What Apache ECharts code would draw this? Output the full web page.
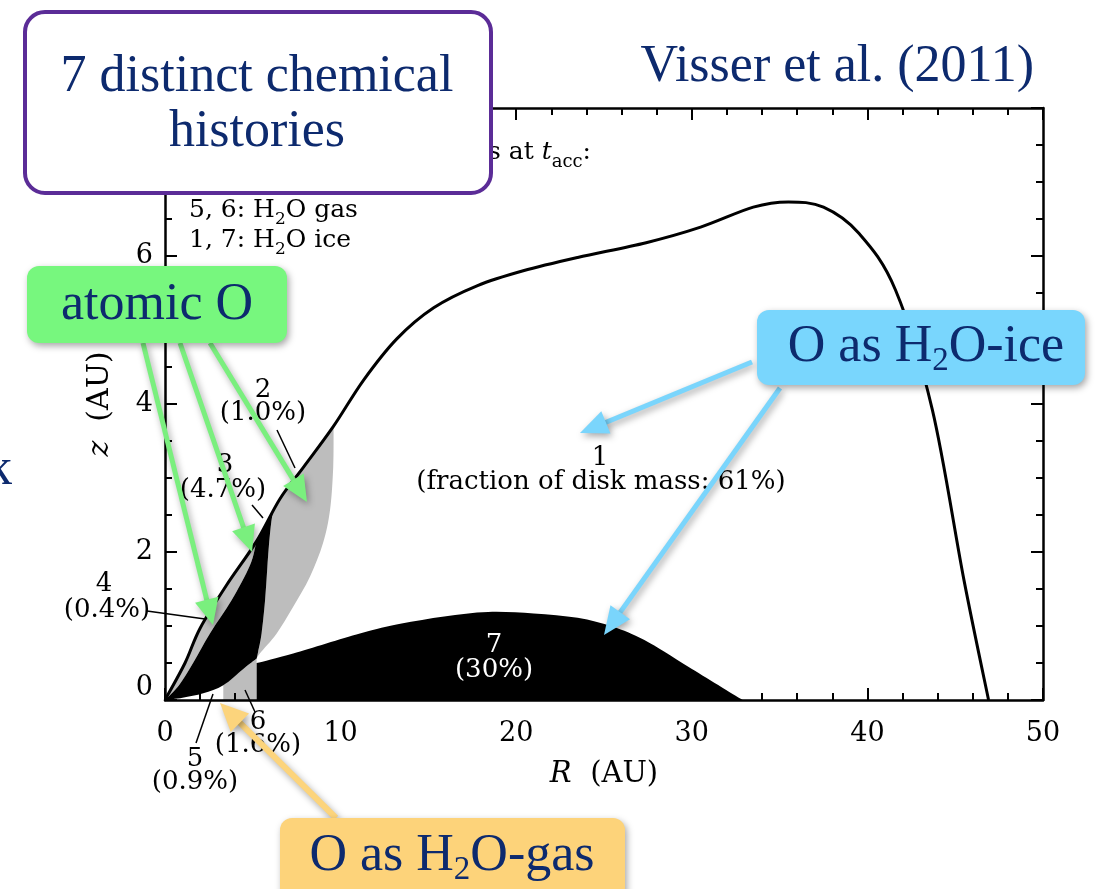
<!DOCTYPE html>
<html>
<head>
<meta charset="utf-8">
<script src="https://cdn.jsdelivr.net/npm/echarts@6/dist/echarts.min.js"></script>
<style>
html,body{margin:0;padding:0;background:#fff;}
#c{width:1096px;height:889px;}
</style>
</head>
<body>
<div id="c"></div>
<script>
// ---------------- data (R in AU, z in AU) ----------------
const xTickValues = [0, 10, 20, 30, 40, 50];
const xTickLabels = ['0', '10', '20', '30', '40', '50'];
const yTickValues = [0, 2, 4, 6, 8];
const yTickLabels = ['0', '2', '4', '6', '8'];

// outer disk surface (black line)
const outerCurve = [[0,0],[1.14,0.5],[2.0,0.97],[3.5,1.55],[5.2,2.14],[6.55,2.72],[7.9,3.15],[9.6,3.7],[11.3,4.32],[13.2,4.88],[15.3,5.3],[17.8,5.6],[20.4,5.8],[23.5,5.98],[27.4,6.18],[30.5,6.39],[33.5,6.66],[35.5,6.73],[37.5,6.66],[39.5,6.31],[41.6,5.54],[43.7,3.92],[45.5,1.62],[46.9,0]];
// boundary between region 4 (grey) and region 3 (black)
const boundary34 = [[0,0],[0.8,0.2],[1.6,0.5],[2.56,0.9],[3.8,1.35],[4.84,1.82],[5.2,2.14]];
// lower boundary of region 3 (above regions 5 and 6)
const lowerCurve = [[0,0],[1.0,0.03],[2.18,0.09],[3.32,0.2],[4.46,0.42],[5.22,0.56]];
// right edge of region 3 (from apex down)
const edge3Right = [[6.55,2.72],[6.17,2.55],[5.98,2.25],[5.83,1.8],[5.7,1.35],[5.5,0.9],[5.3,0.65],[5.22,0.56]];
// right edge of region 2 (from surface down)
const edge2Right = [[9.6,3.7],[9.58,3.15],[9.4,2.57],[9.0,2.12],[8.26,1.67],[7.3,1.26],[6.36,0.9],[5.4,0.63],[5.22,0.56]];
// top of region 7
const top7 = [[5.22,0.5],[7.3,0.63],[11.1,0.9],[13.4,1.03],[15.9,1.13],[18.4,1.19],[21,1.17],[23.5,1.11],[25.5,0.99],[27.3,0.81],[29.8,0.45],[32.9,0]];
// radial extent of region 6 (grey) and region 7 (black) at the midplane
const region6Edges = [3.32, 5.22];
const region7Edges = [5.22, 32.9];

// region labels
const regionNames = ['1','2','3','4','5','6','7'];
const regionFractions = ['(fraction of disk mass: 61%)','(1.0%)','(4.7%)','(0.4%)','(0.9%)','(1.6%)','(30%)'];

// ---------------- helpers ----------------
const NAVY = '#0d2a6e';
const GREY = '#bdbdbd';
const PLOT_FONT = '"DejaVu Serif", serif';
const SLIDE_FONT = '"Liberation Serif", serif';

function piecePath(pts, smooth) {
  let d = '';
  for (let i = 0; i < pts.length - 1; i++) {
    const p1 = pts[i], p2 = pts[i + 1];
    if (!smooth) { d += ' L' + p2[0] + ' ' + p2[1]; continue; }
    const p0 = pts[i - 1] || p1, p3 = pts[i + 2] || p2;
    const c1 = [p1[0] + (p2[0] - p0[0]) / 6, p1[1] + (p2[1] - p0[1]) / 6];
    const c2 = [p2[0] - (p3[0] - p1[0]) / 6, p2[1] - (p3[1] - p1[1]) / 6];
    d += ' C' + c1[0] + ' ' + c1[1] + ' ' + c2[0] + ' ' + c2[1] + ' ' + p2[0] + ' ' + p2[1];
  }
  return d;
}
function buildPath(pieces, close) {
  let d = '';
  let last = null;
  pieces.forEach((pc, k) => {
    const first = pc.pts[0];
    if (k === 0) d += 'M' + first[0] + ' ' + first[1];
    else if (!last || Math.abs(last[0] - first[0]) > 0.01 || Math.abs(last[1] - first[1]) > 0.01) d += ' L' + first[0] + ' ' + first[1];
    d += piecePath(pc.pts, pc.smooth);
    last = pc.pts[pc.pts.length - 1];
  });
  if (close) d += ' Z';
  return d;
}
const rev = a => a.slice().reverse();

const regions = [
  { name: 'region 2', fill: GREY, z: 2, pieces: [
    { pts: rev(edge3Right), smooth: true },
    { pts: outerCurve.slice(5, 8), smooth: true },
    { pts: edge2Right, smooth: true } ] },
  { name: 'region 4', fill: GREY, z: 2, pieces: [
    { pts: outerCurve.slice(0, 5), smooth: true },
    { pts: rev(boundary34), smooth: true } ] },
  { name: 'region 6', fill: GREY, z: 2, pieces: [
    { pts: [[region6Edges[0], 0], lowerCurve[3]], smooth: false },
    { pts: lowerCurve.slice(3), smooth: true },
    { pts: [lowerCurve[5], [region6Edges[1], 0]], smooth: false } ] },
  { name: 'region 3', fill: '#000', z: 3, pieces: [
    { pts: boundary34, smooth: true },
    { pts: outerCurve.slice(4, 6), smooth: true },
    { pts: edge3Right, smooth: true },
    { pts: rev(lowerCurve), smooth: true } ] },
  { name: 'region 7', fill: '#000', z: 3, pieces: [
    { pts: [[region7Edges[0], 0], top7[0]], smooth: false },
    { pts: top7, smooth: true } ] }
];

function regionSeries(rg) {
  return {
    type: 'custom', name: rg.name, coordinateSystem: 'cartesian2d',
    xAxisIndex: 0, yAxisIndex: 0, silent: true, animation: false, clip: false, z: rg.z,
    data: [[0, 0]],
    renderItem: (params, api) => ({
      type: 'path',
      shape: { pathData: buildPath(rg.pieces.map(pc => ({ pts: pc.pts.map(p => api.coord(p)), smooth: pc.smooth })), true) },
      style: { fill: rg.fill, stroke: 'none' }
    })
  };
}
const outerSeries = {
  type: 'custom', name: 'disk surface', coordinateSystem: 'cartesian2d',
  xAxisIndex: 0, yAxisIndex: 0, silent: true, animation: false, clip: false, z: 4,
  data: [[0, 0]],
  renderItem: (params, api) => ({
    type: 'path',
    shape: { pathData: buildPath([{ pts: outerCurve.map(p => api.coord(p)), smooth: true }], false) },
    style: { fill: 'none', stroke: '#000', lineWidth: 3, lineJoin: 'round' }
  })
};

const tickStyle = { color: '#000', width: 2 };
function xAx(pos, labels) {
  return {
    type: 'value', gridIndex: 0, position: pos, min: 0, max: 50, interval: 10, z: 5,
    axisLine: { show: true, onZero: false, lineStyle: { color: '#000', width: 2.5 } },
    axisTick: { show: true, inside: true, length: 12, lineStyle: tickStyle },
    minorTick: { show: true, splitNumber: 5, length: 7, lineStyle: tickStyle },
    splitLine: { show: false }, minorSplitLine: { show: false },
    axisLabel: labels ? { show: true, margin: 20, color: '#000', fontFamily: PLOT_FONT, fontSize: 27,
      formatter: v => { const i = xTickValues.indexOf(v); return i >= 0 ? xTickLabels[i] : ''; } } : { show: false },
    name: labels ? '{i|R}  (AU)' : '', nameLocation: 'middle', nameGap: 60,
    nameTextStyle: { color: '#000', fontFamily: PLOT_FONT, fontSize: 29,
      rich: { i: { fontStyle: 'italic', fontFamily: PLOT_FONT, fontSize: 29, color: '#000' } } }
  };
}
function yAx(pos, labels) {
  return {
    type: 'value', gridIndex: 0, position: pos, min: 0, max: 8, interval: 2, z: 5,
    axisLine: { show: true, onZero: false, lineStyle: { color: '#000', width: 2.5 } },
    axisTick: { show: true, inside: true, length: 12, lineStyle: tickStyle },
    minorTick: { show: true, splitNumber: 4, length: 7, lineStyle: tickStyle },
    splitLine: { show: false }, minorSplitLine: { show: false },
    axisLabel: labels ? { show: true, margin: 12, color: '#000', fontFamily: PLOT_FONT, fontSize: 27,
      rich: { lo: { fontFamily: PLOT_FONT, fontSize: 27, color: '#000', padding: [0, 0, 24, 0] } },
      formatter: v => { const i = yTickValues.indexOf(v); if (i < 0) return ''; return v === 0 ? '{lo|' + yTickLabels[i] + '}' : yTickLabels[i]; } } : { show: false },
    name: labels ? '{i|z}  (AU)' : '', nameLocation: 'middle', nameGap: 50, nameRotate: 90,
    nameTextStyle: { color: '#000', fontFamily: PLOT_FONT, fontSize: 30,
      rich: { i: { fontStyle: 'italic', fontFamily: PLOT_FONT, fontSize: 30, color: '#000' } } }
  };
}

// ---------------- annotations (slide overlay) ----------------
const SH = { shadowBlur: 7, shadowColor: 'rgba(0,0,0,0.35)', shadowOffsetX: 2, shadowOffsetY: 3 };
const G = [];
function txt(text, x, y, opt) {
  G.push({ type: 'text', x: x, y: y, z: 50, silent: true,
    style: Object.assign({ text: text, align: 'center', verticalAlign: 'middle',
      fontFamily: PLOT_FONT, fontSize: 26, fill: '#000' }, opt || {}) });
}
function seg(x1, y1, x2, y2, color, w, z) {
  G.push({ type: 'line', z: z || 50, silent: true, shape: { x1, y1, x2, y2 }, style: { stroke: color || '#000', lineWidth: w || 1.5 } });
}
function arrow(x1, y1, x2, y2, color, w, hl, hw) {
  const dx = x2 - x1, dy = y2 - y1, L = Math.hypot(dx, dy), ux = dx / L, uy = dy / L;
  const bx = x2 - ux * hl, by = y2 - uy * hl, px = -uy, py = ux;
  G.push({ type: 'line', z: 60, silent: true, shape: { x1, y1, x2: bx + ux * 3, y2: by + uy * 3 },
    style: Object.assign({ stroke: color, lineWidth: w, lineCap: 'butt' }, SH) });
  G.push({ type: 'polygon', z: 61, silent: true,
    shape: { points: [[x2, y2], [bx + px * hw / 2, by + py * hw / 2], [bx - px * hw / 2, by - py * hw / 2]] },
    style: Object.assign({ fill: color }, SH) });
}
function box(x, y, w, h, fill, stroke, lw, shadow) {
  G.push({ type: 'rect', z: 70, silent: true, shape: { x, y, width: w, height: h, r: stroke ? 20 : 12 },
    style: Object.assign({ fill: fill, stroke: stroke || null, lineWidth: lw || 0 }, shadow ? SH : {}) });
}

// legend text in plot
const legRich = {
  n: { fontFamily: PLOT_FONT, fontSize: 25, fill: '#000', lineHeight: 36, verticalAlign: 'middle' },
  s: { fontFamily: PLOT_FONT, fontSize: 17, fill: '#000', lineHeight: 36, verticalAlign: 'bottom' },
  t: { fontFamily: PLOT_FONT, fontSize: 25, fontStyle: 'italic', fill: '#000', lineHeight: 38, verticalAlign: 'middle' },
  a: { fontFamily: PLOT_FONT, fontSize: 18, fill: '#000', lineHeight: 38, verticalAlign: 'bottom' }
};
txt('{n|s at }{t|t}{a|acc}{n|:}', 488, 152, { align: 'left', rich: legRich });
txt('{n|5, 6: H}{s|2}{n|O gas}', 189, 210, { align: 'left', rich: legRich });
txt('{n|1, 7: H}{s|2}{n|O ice}', 189, 240, { align: 'left', rich: legRich });

// region labels
const labelPos = { '1': [600, 458, 601, 482], '2': [263, 390, 263, 413], '3': [225, 465, 223, 490],
  '4': [104, 584, 107, 610], '5': [195, 759, 195, 782], '6': [258, 722, 258, 745], '7': [494, 645, 494, 670] };
regionNames.forEach((n, i) => {
  const p = labelPos[n];
  const col = n === '7' ? '#fff' : '#000';
  txt(n, p[0], p[1], { fill: col });
  txt(regionFractions[i], p[2], p[3], { fill: col });
});
// leader lines
seg(147, 611, 205, 619); seg(252, 505, 263, 518); seg(277, 430, 295, 468);
seg(213, 694, 196, 743); seg(245, 690, 255, 712);

// arrows
const GREEN = '#7aef7e', BLUE = '#7ad5fc', YEL = '#fcd47c';
arrow(143, 343, 213, 625, GREEN, 5, 26, 24);
arrow(180, 343, 252, 552, GREEN, 5, 26, 24);
arrow(210, 343, 307, 502, GREEN, 5, 26, 24);
arrow(752, 362, 580, 433, BLUE, 5, 28, 24);
arrow(780, 388, 604, 635, BLUE, 5, 28, 24);
arrow(336, 818, 220, 703, YEL, 6, 28, 26);

// boxes
box(25, 12, 466, 181, '#fff', '#5b2c97', 4, false);
box(27, 266, 260, 77, '#77f77e', null, 0, true);
box(757, 310, 328, 75, '#79d6fd', null, 0, true);
box(280, 818, 345, 100, '#fdd37a', null, 0, true);

const boxRich = {
  n: { fontFamily: SLIDE_FONT, fontSize: 52, fill: NAVY, lineHeight: 62, verticalAlign: 'middle' },
  s: { fontFamily: SLIDE_FONT, fontSize: 33, fill: NAVY, lineHeight: 62, verticalAlign: 'bottom' }
};
function slideText(text, x, y, align) {
  G.push({ type: 'text', x, y, z: 80, silent: true,
    style: { text, align: align || 'center', verticalAlign: 'middle', rich: boxRich } });
}
slideText('{n|7 distinct chemical}', 257, 77);
slideText('{n|histories}', 257, 132);
slideText('{n|Visser et al. (2011)}', 1034, 67, 'right');
slideText('{n|atomic O}', 157, 305);
slideText('{n|O as H}{s|2}{n|O-ice}', 926, 347);
slideText('{n|O as H}{s|2}{n|O-gas}', 452, 856);
slideText('{n|k}', 12, 470, 'right');

// ---------------- chart ----------------
const chart = echarts.init(document.getElementById('c'), null, { renderer: 'canvas', width: 1096, height: 889 });
chart.setOption({
  animation: false,
  backgroundColor: '#fff',
  grid: { left: 165, right: 53, top: 108, bottom: 189, containLabel: false },
  xAxis: [xAx('bottom', true), xAx('top', false)],
  yAxis: [yAx('left', true), yAx('right', false)],
  series: regions.map(regionSeries).concat([outerSeries]),
  graphic: { elements: G }
});
</script>
</body>
</html>
